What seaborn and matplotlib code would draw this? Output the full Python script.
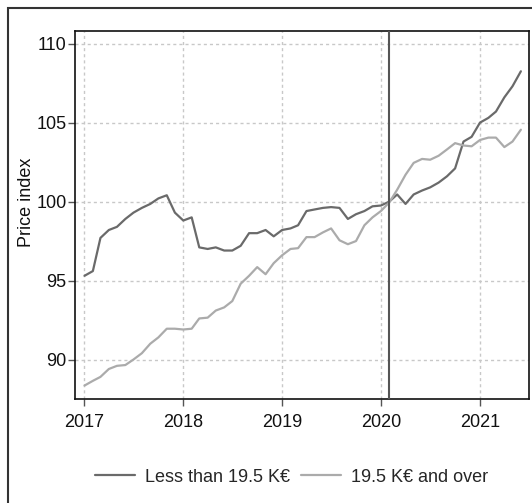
import pandas as pd
import matplotlib
matplotlib.use("Agg")
from matplotlib import pyplot as plt
from matplotlib.patches import Rectangle
import matplotlib.dates as mdates
import seaborn as sns

# monthly price index, Jan 2017 - Jun 2021
months = pd.date_range("2017-01-01", periods=54, freq="MS")
low_income = [
    95.3, 95.6, 97.7, 98.2, 98.4, 98.9, 99.3, 99.6, 99.85, 100.2, 100.4, 99.3,
    98.8, 99.0, 97.1, 97.0, 97.1, 96.9, 96.9, 97.2, 98.0, 98.0, 98.2, 97.8,
    98.2, 98.3, 98.5, 99.4, 99.5, 99.6, 99.65, 99.6, 98.9, 99.2, 99.4, 99.7,
    99.75, 100.0, 100.45, 99.85, 100.45, 100.7, 100.9, 101.2, 101.6, 102.1, 103.8, 104.1,
    105.0, 105.3, 105.7, 106.6, 107.3, 108.25,
]
high_income = [
    88.35, 88.65, 88.9, 89.4, 89.6, 89.65, 90.0, 90.4, 91.0, 91.4, 91.95, 91.95,
    91.9, 91.95, 92.6, 92.65, 93.1, 93.3, 93.7, 94.8, 95.3, 95.85, 95.4, 96.1,
    96.6, 97.0, 97.05, 97.75, 97.75, 98.05, 98.3, 97.55, 97.3, 97.5, 98.5, 99.0,
    99.4, 99.95, 100.75, 101.7, 102.45, 102.7, 102.65, 102.9, 103.3, 103.7, 103.55, 103.5,
    103.9, 104.05, 104.05, 103.45, 103.8, 104.55,
]
series_names = ["Less than 19.5 K€", "19.5 K€ and over"]
series_colors = ["#6a6a6a", "#ababab"]
year_ticks = ["2017", "2018", "2019", "2020", "2021"]
y_ticks = [90, 95, 100, 105, 110]
break_date = "2020-02-01"

df = pd.DataFrame({
    "date": list(months) * 2,
    "index": low_income + high_income,
    "group": [series_names[0]] * len(months) + [series_names[1]] * len(months),
})

sns.set_style("white")
plt.rcParams["font.family"] = ["Liberation Sans Narrow", "Liberation Sans", "DejaVu Sans"]
fs = 13

fig = plt.figure(figsize=(5.32, 5.03), dpi=100)
ax = fig.add_axes([75 / 532, 1 - 399 / 503, 454 / 532, 368 / 503])

sns.lineplot(data=df, x="date", y="index", hue="group", hue_order=series_names,
             palette=series_colors, linewidth=1.6, ax=ax, legend=False)
ax.axvline(pd.Timestamp(break_date), color="#555555", linewidth=1.5, zorder=3)

ax.set_xlim(pd.Timestamp("2016-11-27"), pd.Timestamp("2021-07-01"))
ax.set_ylim(87.5, 110.8)
ax.set_xticks([pd.Timestamp(y + "-01-01") for y in year_ticks])
ax.xaxis.set_major_formatter(mdates.DateFormatter("%Y"))
ax.set_yticks(y_ticks)

ax.grid(True, color="#c8c8c8", linestyle=(0, (2.2, 2.2)), linewidth=1.0)
for s in ax.spines.values():
    s.set_color("#111111")
    s.set_linewidth(1.2)
ax.tick_params(axis="both", which="major", direction="out", length=5, width=1,
               color="#555555", labelsize=fs, labelcolor="#111111",
               bottom=True, left=True)
ax.tick_params(axis="x", pad=6)
ax.tick_params(axis="y", pad=1)

ax.set_xlabel("")
ax.set_ylabel("Price index", fontsize=fs, color="#111111")
ax.yaxis.set_label_coords(-0.088, 0.535)

# legend below the plot
handles = [plt.Line2D([], [], color=c, linewidth=1.6) for c in series_colors]
fig.legend(handles, series_names, loc="center", bbox_to_anchor=(0.548, 1 - 477 / 503),
           ncol=2, frameon=False, fontsize=fs, handlelength=2.2,
           handletextpad=0.55, columnspacing=0.6)

# outer frame of the graph region
fig.patches.append(Rectangle((8, -10), 560, 503 - 8 + 10, transform=None,
                             fill=False, edgecolor="#333333", linewidth=1.5))

fig.savefig("out.png", dpi=100)
